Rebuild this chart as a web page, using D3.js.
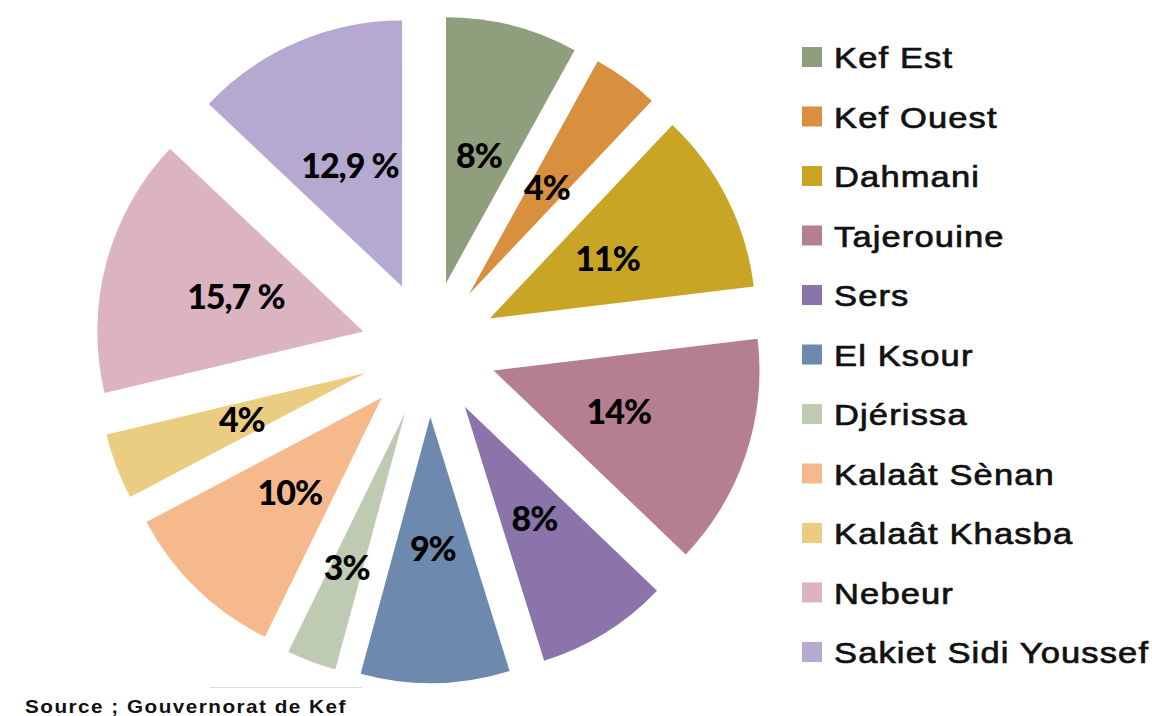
<!DOCTYPE html>
<html>
<head>
<meta charset="utf-8">
<script src="https://cdn.jsdelivr.net/npm/d3@7/dist/d3.min.js"></script>
<style>
  body { margin: 0; background: #fff; }
  svg { display: block; }
</style>
</head>
<body>
<svg class="pie" width="1152" height="716"></svg>
<script>
// Répartition par délégation (Gouvernorat de Kef)
const delegations = ['Kef Est', 'Kef Ouest', 'Dahmani', 'Tajerouine', 'Sers', 'El Ksour',
    'Djérissa', 'Kalaât Sènan', 'Kalaât Khasba', 'Nebeur', 'Sakiet Sidi Youssef'];
const shares = [8, 4, 11, 14, 8, 9, 3, 10, 4, 15.7, 12.9];
const shareLabels = ['8%', '4%', '11%', '14%', '8%', '9%', '3%', '10%', '4%', '15,7 %', '12,9 %'];
const colors = ['#8f9e7c', '#d88f3e', '#c9a526', '#b67f91', '#8a74aa', '#6d89ad',
    '#bfcab3', '#f5b98c', '#ebcd82', '#dcb3c1', '#b6a9d1'];

const svg = d3.select('.pie');

const render = () => {
    const cx = 429, cy = 349;
    const radius = 266;
    const explode = 68;
    const labelDist = 200;

    const data = delegations.map((name, i) => ({
        name: name, value: shares[i], label: shareLabels[i], color: colors[i]
    }));

    const pie = d3.pie()
        .sort(null)
        .value(d => d.value);

    const arc = d3.arc()
        .innerRadius(0)
        .outerRadius(radius);

    const arcs = pie(data);

    const g = svg.append('g')
        .attr('transform', `translate(${cx}, ${cy})`);

    const mid = d => (d.startAngle + d.endAngle) / 2;

    g.selectAll('path')
        .data(arcs)
        .enter()
        .append('path')
        .attr('d', arc)
        .attr('fill', d => d.data.color)
        .attr('transform', d => {
            const a = mid(d);
            return `translate(${Math.sin(a) * explode}, ${-Math.cos(a) * explode})`;
        });

    // étiquettes des pourcentages (un peu plus loin pour les petites parts)
    const labelR = d => d.data.value < 4 ? labelDist * 1.17 : labelDist;

    g.selectAll('text.pct')
        .data(arcs)
        .enter()
        .append('text')
        .attr('class', 'pct')
        .attr('x', d => Math.sin(mid(d)) * labelR(d))
        .attr('y', d => -Math.cos(mid(d)) * labelR(d))
        .attr('dy', '0.36em')
        .attr('text-anchor', 'middle')
        .style('font-family', 'Lato, sans-serif')
        .style('font-weight', '900')
        .style('font-size', '34px')
        .style('letter-spacing', '-1px')
        .attr('fill', '#000')
        .text(d => d.data.label);

    // légende
    const legendY = d3.scalePoint()
        .domain(delegations)
        .range([57, 652]);

    const legend = svg.append('g')
        .selectAll('g')
        .data(data)
        .enter()
        .append('g')
        .attr('transform', d => `translate(802, ${legendY(d.name)})`);

    legend.append('rect')
        .attr('x', 0)
        .attr('y', -10)
        .attr('width', 20)
        .attr('height', 20)
        .attr('fill', d => d.color);

    legend.append('text')
        .attr('transform', 'translate(32, 11) scale(1.15, 1)')
        .style('font-family', '"Liberation Sans", Arial, sans-serif')
        .style('font-size', '30px')
        .style('letter-spacing', '1px')
        .attr('fill', '#111')
        .attr('stroke', '#111')
        .attr('stroke-width', 0.7)
        .text(d => d.name);

    svg.append('line')
        .attr('x1', 210).attr('x2', 362)
        .attr('y1', 687.5).attr('y2', 687.5)
        .attr('stroke', '#dcdcdc')
        .attr('stroke-width', 1);

    svg.append('text')
        .attr('transform', 'translate(25, 713) scale(1.15, 1)')
        .style('font-family', '"Liberation Sans", Arial, sans-serif')
        .style('font-weight', 'bold')
        .style('font-size', '18px')
        .style('letter-spacing', '1.3px')
        .attr('fill', '#111')
        .text('Source ; Gouvernorat de Kef');
};

render();
</script>
</body>
</html>
